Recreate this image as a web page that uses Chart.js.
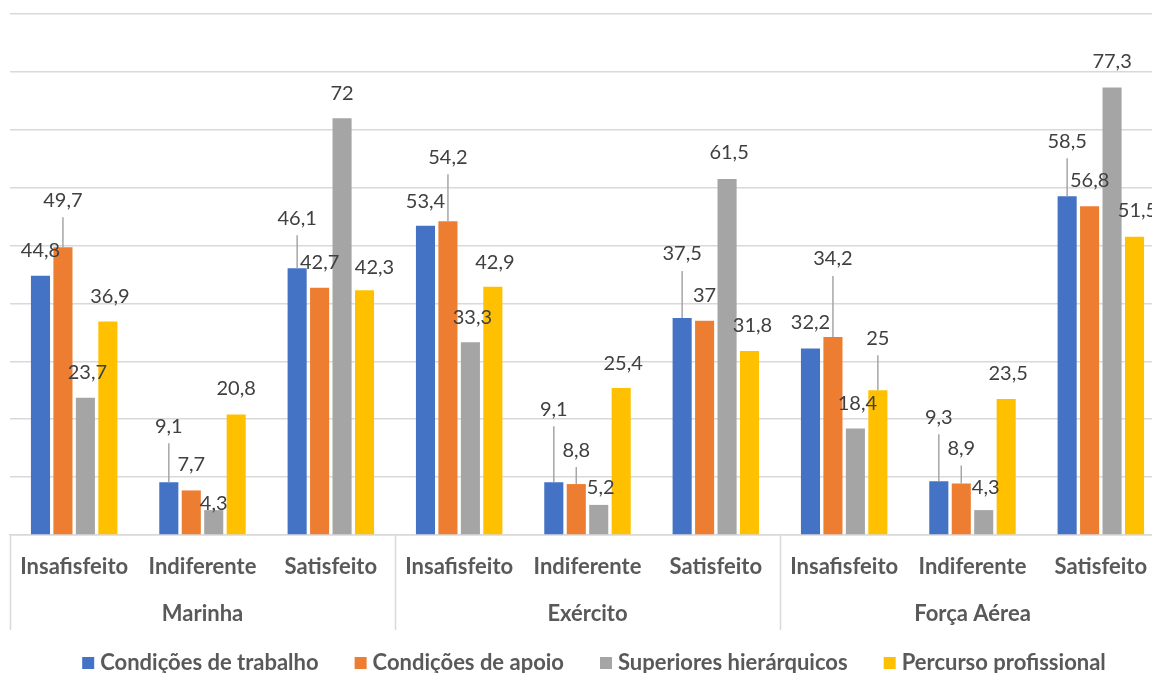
<!DOCTYPE html>
<html lang="pt">
<head>
<meta charset="UTF-8">
<title>Satisfação por ramo</title>
<style>
  html,body{margin:0;background:#fff;overflow:hidden}
  #wrap{width:1175px;height:673px}
</style>
</head>
<body>
<div id="wrap"><canvas id="grafico"></canvas></div>

<script src="https://cdn.jsdelivr.net/npm/chart.js@4.4.0/dist/chart.umd.min.js"></script>
<script>
/* ---------- Dados ---------- */
const ramos      = ['Marinha', 'Exército', 'Força Aérea'];
const niveis     = ['Insafisfeito', 'Indiferente', 'Satisfeito'];
const categorias = ramos.flatMap(() => niveis);

const series     = ['Condições de trabalho', 'Condições de apoio', 'Superiores hierárquicos', 'Percurso profissional'];
const trabalho   = [44.8,  9.1, 46.1, 53.4,  9.1, 37.5, 32.2,  9.3, 58.5];
const apoio      = [49.7,  7.7, 42.7, 54.2,  8.8, 37.0, 34.2,  8.9, 56.8];
const superiores = [23.7,  4.3, 72.0, 33.3,  5.2, 61.5, 18.4,  4.3, 77.3];
const percurso   = [36.9, 20.8, 42.3, 42.9, 25.4, 31.8, 25.0, 23.5, 51.5];
const cores      = ['#4472c4', '#ed7d31', '#a5a5a5', '#ffc000'];

/* ---------- Posição dos rótulos (px acima do topo da barra) ---------- */
const subida = [
  [25, 56, 50, 24, 73, 64, 26, 64, 55],
  [47, 26, 25, 64, 34, 25, 78, 35, 26],
  [25,  7, 25, 25, 17, 26, 25, 23, 26],
  [25, 26, 23, 24, 24, 25, 52, 25, 26]
];
const desvioX = [
  [0, 0, 0, 0, 0, 0, 0, 0, 0],
  [0, 0, 0, 0, 0, 0, 0, 0, 0],
  [2, 0, 0, 2, 2, 2, 2, 2, 0],
  [2, 0, 10, 2, 2, 3, 0, 2, 3]
];

const FONTE = 'Lato, "Open Sans", sans-serif';
const CINZA_TXT = '#595959', CINZA_GRD = '#d9d9d9';

/* ---------- Plugin: rótulos + linhas de chamada ---------- */
const rotulos = {
  id: 'rotulos',
  afterDatasetsDraw(chart){
    const c = chart.ctx;
    c.save();
    c.font = '20px ' + FONTE;
    c.fillStyle = '#404040';
    c.textAlign = 'center'; c.textBaseline = 'middle';
    chart.data.datasets.forEach((ds, s) => {
      chart.getDatasetMeta(s).data.forEach((bar, i) => {
        const sobe = subida[s][i];
        const ly = bar.y - sobe;
        if (sobe >= 33){
          c.strokeStyle = '#a6a6a6'; c.lineWidth = 1.5;
          c.beginPath(); c.moveTo(bar.x, ly + 17); c.lineTo(bar.x, bar.y); c.stroke();
        }
        c.fillText(String(ds.data[i]).replace('.', ','), bar.x + desvioX[s][i], ly);
      });
    });
    c.restore();
  }
};

/* ---------- Plugin: eixo de dois níveis + legenda ---------- */
const eixoGrupos = {
  id: 'eixoGrupos',
  afterDraw(chart){
    const {ctx: c, chartArea: a} = chart;
    const larg = (a.right - a.left) / ramos.length;
    c.save();
    c.strokeStyle = CINZA_GRD; c.lineWidth = 1.5;
    for (let k = 0; k <= ramos.length; k++){
      const x = Math.round(a.left + k * larg) + 0.5;
      c.beginPath(); c.moveTo(x, a.bottom); c.lineTo(x, a.bottom + 95); c.stroke();
    }
    c.font = 'bold 22px ' + FONTE;
    c.fillStyle = CINZA_TXT;
    c.textAlign = 'center'; c.textBaseline = 'middle';
    ramos.forEach((r, k) => c.fillText(r, a.left + (k + 0.5) * larg, a.bottom + 79));

    // legenda
    const caixa = 12, folga = 6, entre = 36, ly = a.bottom + 128;
    const larguras = series.map(t => c.measureText(t).width);
    const total = larguras.reduce((s, w) => s + w, 0) + series.length * (caixa + folga) + (series.length - 1) * entre;
    let x = 594 - total / 2;
    c.textAlign = 'left';
    series.forEach((t, s) => {
      c.fillStyle = cores[s];
      c.fillRect(x, ly - caixa / 2, caixa, caixa);
      c.fillStyle = CINZA_TXT;
      c.fillText(t, x + caixa + folga, ly);
      x += caixa + folga + larguras[s] + entre;
    });
    c.restore();
  }
};

new Chart(document.getElementById('grafico'), {
  type: 'bar',
  data: {
    labels: categorias,
    datasets: [trabalho, apoio, superiores, percurso].map((d, s) => ({
      label: series[s], data: d, backgroundColor: cores[s],
      categoryPercentage: 0.7, barPercentage: 0.85
    }))
  },
  options: {
    responsive: true, maintainAspectRatio: false, animation: false,
    layout: {padding: {top: 14, left: 10, right: 10, bottom: 0}},
    scales: {
      x: {
        grid: {display: false},
        border: {color: CINZA_GRD, width: 1.5},
        ticks: {color: CINZA_TXT, font: {family: FONTE, size: 22, weight: 'bold'}, padding: 11, maxRotation: 0, autoSkip: false},
        afterFit(s){ s.height = 138; }
      },
      y: {
        min: 0, max: 90,
        ticks: {display: false, stepSize: 10},
        border: {display: false},
        grid: {color: CINZA_GRD, lineWidth: 1.5, drawTicks: false},
        afterFit(s){ s.width = 0; }
      }
    },
    plugins: {
      legend: {display: false},
      tooltip: {enabled: false}
    }
  },
  plugins: [rotulos, eixoGrupos]
});
</script>
</body>
</html>
